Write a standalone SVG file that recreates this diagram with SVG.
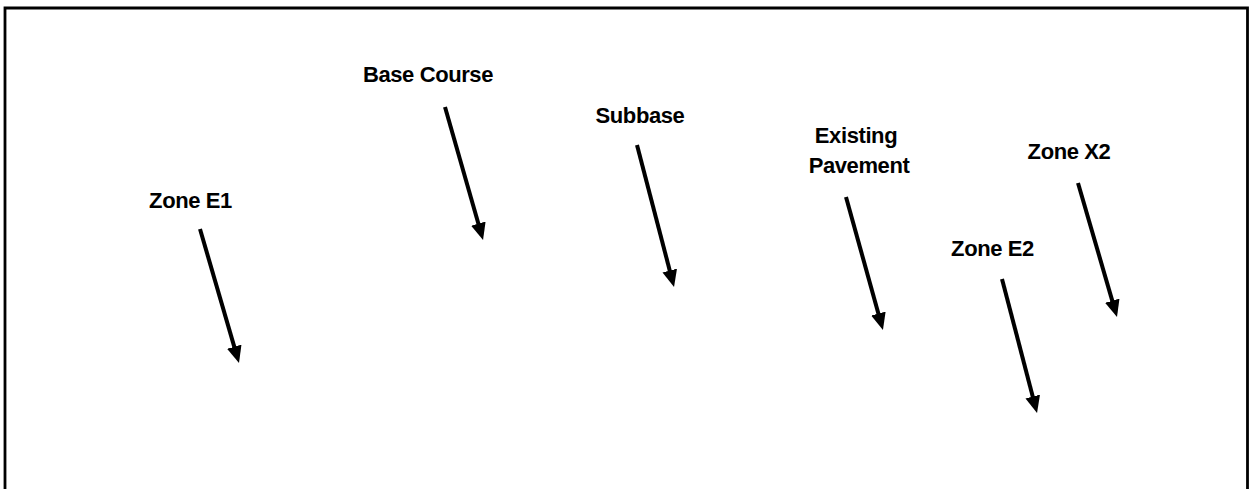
<svg xmlns="http://www.w3.org/2000/svg" width="1254" height="489" viewBox="0 0 1254 489">
<style>
.lbl{font-family:"Liberation Sans",Arial,sans-serif;font-weight:bold;font-size:22px;letter-spacing:-0.4px;fill:#000;text-anchor:middle}
.arr{stroke:#000;stroke-width:4;fill:none;marker-end:url(#ah)}
</style>
<defs>
<marker id="ah" markerUnits="userSpaceOnUse" markerWidth="18" markerHeight="16" refX="3" refY="7.5" orient="auto">
<path d="M0,0 L17,7.5 L0,15 Z" fill="#000"/>
</marker>
</defs>
<rect width="1254" height="489" fill="#fff"/>
<path d="M5,489 V8 H1247.5 V489" fill="none" stroke="#000" stroke-width="2.8"/>
<g id="zone-e1"><text class="lbl" x="190.5" y="208">Zone E1</text></g>
<g id="base-course"><text class="lbl" x="428" y="82">Base Course</text></g>
<g id="subbase"><text class="lbl" x="640" y="123">Subbase</text></g>
<g id="existing-pavement"><text class="lbl" x="856" y="143">Existing</text><text class="lbl" x="859" y="173">Pavement</text></g>
<g id="zone-e2"><text class="lbl" x="992.5" y="256">Zone E2</text></g>
<g id="zone-x2"><text class="lbl" x="1069" y="159">Zone X2</text></g>
<g id="connectors">
<line class="arr" x1="200" y1="229" x2="235.1" y2="349.6"/>
<line class="arr" x1="445" y1="107" x2="479.2" y2="226.5"/>
<line class="arr" x1="637" y1="145" x2="670.5" y2="273.4"/>
<line class="arr" x1="846" y1="197" x2="879.2" y2="316.5"/>
<line class="arr" x1="1002" y1="279" x2="1033.5" y2="399.4"/>
<line class="arr" x1="1078" y1="183" x2="1113.1" y2="303.6"/>
</g>
</svg>
